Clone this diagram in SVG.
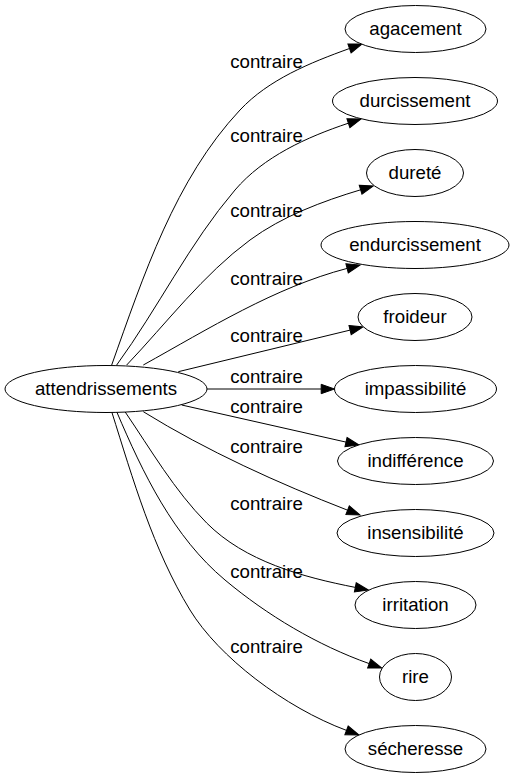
<svg xmlns="http://www.w3.org/2000/svg" width="516" height="779" viewBox="0 0 516 779">
<style>
.node ellipse{fill:#fff;stroke:#000;stroke-width:1}
.node text{font-family:"Liberation Sans",Arial,sans-serif;font-size:18.67px;text-anchor:middle;fill:#000}
.edges path{fill:none;stroke:#000;stroke-width:1;marker-end:url(#arr)}
.lbl{font-family:"Liberation Sans",Arial,sans-serif;font-size:18.67px;text-anchor:middle;fill:#000}
</style>
<defs>
<marker id="arr" markerUnits="userSpaceOnUse" viewBox="0 0 13.3 9.4" refX="0" refY="4.7" markerWidth="13.3" markerHeight="9.4" orient="auto" overflow="visible">
<path d="M0,0 L13.3,4.7 L0,9.4 Z" fill="#000" stroke="#000" stroke-width="1"/>
</marker>
</defs>
<rect width="516" height="779" fill="#fff"/>
<g id="edges" class="edges">
<path d="M111.7,365 C143.6,275.5 175,179.3 240,110 C268.7,79.4 310,62.8 349.5,48.5"/>
<path d="M116.7,365 C157.9,308.4 189.5,243.2 235,190 C263.6,156.6 306.7,137.1 348.4,123.2"/>
<path d="M126.7,365 C166.7,323 203.3,274.3 250,240 C282.2,216.3 322.3,201.3 360.6,189.8"/>
<path d="M143.3,365 C208.9,328.6 274.6,287.4 347.1,268.4"/>
<path d="M178.3,371.7 L350.1,330.1"/>
<path d="M207,389 L321.2,389"/>
<path d="M181.7,405 L346,442.1"/>
<path d="M143.3,411.7 C207.1,451.1 277.7,483 347.6,510.2"/>
<path d="M125,411.7 C150.9,449.7 174.3,490.4 206.7,523 C244.8,561.3 302.3,577 355.3,587.4"/>
<path d="M116.7,411.7 C142.9,473.3 173.6,537.1 225,580 C267.2,615.3 317.3,645.2 369.2,663.6"/>
<path d="M111.7,411.7 C133,479.4 153,549.4 190,610 C218.7,656.9 284.7,707.4 346.5,730.4"/>
<text class="lbl" x="266.5" y="68.3">contraire</text>
<text class="lbl" x="266.5" y="141.7">contraire</text>
<text class="lbl" x="266.5" y="216.7">contraire</text>
<text class="lbl" x="266.5" y="285">contraire</text>
<text class="lbl" x="266.5" y="341.7">contraire</text>
<text class="lbl" x="266.5" y="383.3">contraire</text>
<text class="lbl" x="266.5" y="413.3">contraire</text>
<text class="lbl" x="266.5" y="453.3">contraire</text>
<text class="lbl" x="266.5" y="510">contraire</text>
<text class="lbl" x="266.5" y="578.3">contraire</text>
<text class="lbl" x="266.5" y="653.3">contraire</text>
</g>
<g id="attendrissements" class="node"><ellipse cx="106" cy="389" rx="101" ry="23.5"/><text x="106" y="395">attendrissements</text></g>
<g id="agacement" class="node"><ellipse cx="415.5" cy="29" rx="70.5" ry="23.5"/><text x="415.5" y="35">agacement</text></g>
<g id="durcissement" class="node"><ellipse cx="415" cy="101" rx="82.5" ry="23.5"/><text x="415" y="107">durcissement</text></g>
<g id="durete" class="node"><ellipse cx="415" cy="173" rx="48.5" ry="23.5"/><text x="415" y="179">dureté</text></g>
<g id="endurcissement" class="node"><ellipse cx="415" cy="245" rx="94" ry="23.5"/><text x="415" y="251">endurcissement</text></g>
<g id="froideur" class="node"><ellipse cx="415" cy="317" rx="57" ry="23.5"/><text x="415" y="323">froideur</text></g>
<g id="impassibilite" class="node"><ellipse cx="415.5" cy="389" rx="81" ry="23.5"/><text x="415.5" y="395">impassibilité</text></g>
<g id="indifference" class="node"><ellipse cx="415.5" cy="461" rx="78" ry="23.5"/><text x="415.5" y="467">indifférence</text></g>
<g id="insensibilite" class="node"><ellipse cx="415.5" cy="533" rx="78.5" ry="23.5"/><text x="415.5" y="539">insensibilité</text></g>
<g id="irritation" class="node"><ellipse cx="415.5" cy="605" rx="60.5" ry="23.5"/><text x="415.5" y="611">irritation</text></g>
<g id="rire" class="node"><ellipse cx="415.5" cy="677" rx="36" ry="23.5"/><text x="415.5" y="683">rire</text></g>
<g id="secheresse" class="node"><ellipse cx="415.5" cy="749" rx="70.5" ry="23.5"/><text x="415.5" y="755">sécheresse</text></g>
</svg>
